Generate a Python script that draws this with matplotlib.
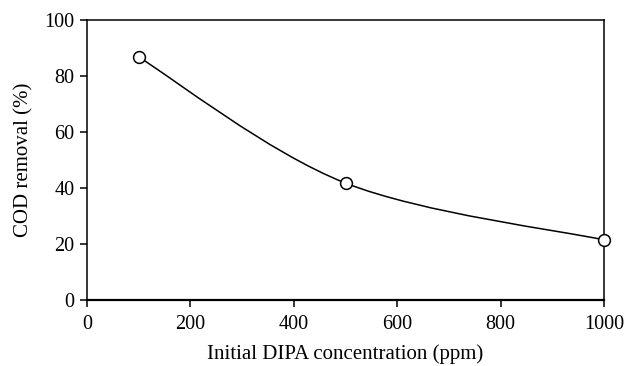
import matplotlib
import matplotlib.pyplot as plt
from matplotlib.path import Path
from matplotlib.patches import PathPatch

matplotlib.use('AGG')

# Data
concentration = [100, 500, 1000]
cod_removal = [86.8, 41.8, 21.5]
x_ticks = [0, 200, 400, 600, 800, 1000]
y_ticks = [0, 20, 40, 60, 80, 100]

plt.rcParams['font.family'] = ['Liberation Serif', 'DejaVu Serif']

fig = plt.figure(figsize=(6.26, 3.66), dpi=100)
ax = fig.add_axes([0.139, 0.180, 0.826, 0.765])


def smooth_path(xs, ys):
    # Catmull-Rom style bezier through the points (like a spreadsheet "smoothed line")
    pts = list(zip(xs, ys))
    verts = [pts[0]]
    codes = [Path.MOVETO]
    n = len(pts)
    for i in range(n - 1):
        p0 = pts[i - 1] if i > 0 else pts[i]
        p1 = pts[i]
        p2 = pts[i + 1]
        p3 = pts[i + 2] if i + 2 < n else pts[i + 1]
        c1 = (p1[0] + (p2[0] - p0[0]) / 6, p1[1] + (p2[1] - p0[1]) / 6)
        c2 = (p2[0] - (p3[0] - p1[0]) / 6, p2[1] - (p3[1] - p1[1]) / 6)
        verts += [c1, c2, p2]
        codes += [Path.CURVE4] * 3
    return Path(verts, codes)


ax.add_patch(PathPatch(smooth_path(concentration, cod_removal),
                       facecolor='none', edgecolor='black', lw=1.1, zorder=2))
ax.plot(concentration, cod_removal, linestyle='none', marker='o',
        markersize=8.5, markerfacecolor='white', markeredgecolor='black',
        markeredgewidth=1.1, zorder=3, clip_on=False)

ax.set_xlim(0, 1000)
ax.set_ylim(0, 100)
ax.set_xticks(x_ticks)
ax.set_yticks(y_ticks)
ax.tick_params(direction='out', length=5, width=1.1, labelsize=14.5)
ax.tick_params(axis='x', pad=6)
ax.tick_params(axis='y', pad=4)

for side in ['left', 'top', 'right']:
    ax.spines[side].set_linewidth(1.1)
ax.spines['bottom'].set_linewidth(1.6)

ax.set_xlabel("Initial DIPA concentration (ppm)", fontsize=15, labelpad=7)
ax.set_ylabel("COD removal (%)", fontsize=15, labelpad=8)

plt.savefig("out.png", dpi=100)
